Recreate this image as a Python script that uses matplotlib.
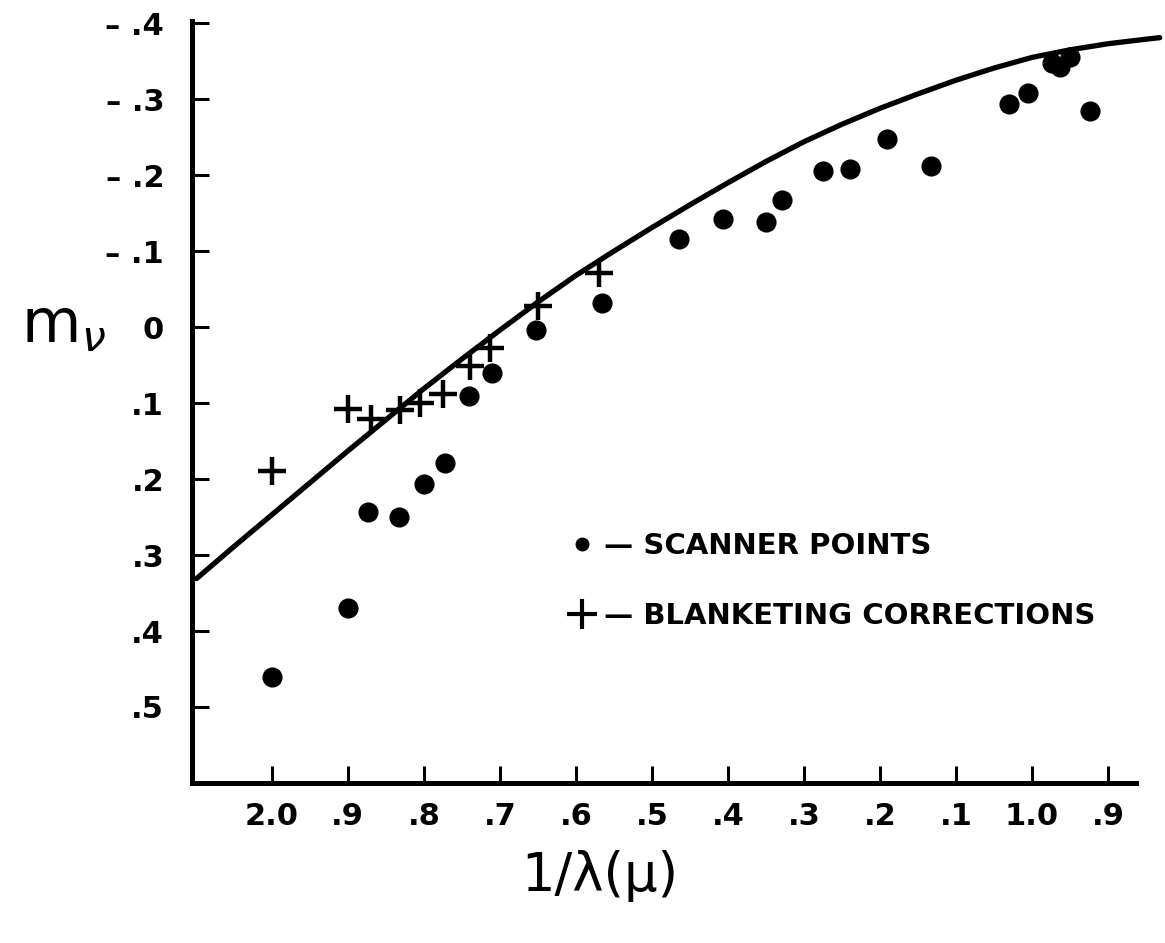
import matplotlib
matplotlib.use("Agg")
import matplotlib.pyplot as plt
from matplotlib.lines import Line2D

# inverse wavelength (1/micron) and magnitudes m_nu
scan_x = [2.00, 1.90, 1.873, 1.833, 1.800, 1.772, 1.741, 1.711, 1.653, 1.566,
          1.465, 1.406, 1.350, 1.329, 1.275, 1.239, 1.191, 1.133, 1.030, 1.005,
          0.974, 0.963, 0.950, 0.924]
scan_y = [0.460, 0.370, 0.244, 0.250, 0.207, 0.179, 0.091, 0.060, 0.004, -0.032,
          -0.116, -0.142, -0.138, -0.167, -0.206, -0.208, -0.247, -0.212, -0.294, -0.308,
          -0.347, -0.343, -0.355, -0.285]

blank_x = [2.00, 1.900, 1.869, 1.832, 1.805, 1.775, 1.739, 1.713, 1.650, 1.570]
blank_y = [0.189, 0.108, 0.121, 0.109, 0.100, 0.088, 0.051, 0.028, -0.028, -0.071]

# smooth theoretical curve
curve_x = [2.099, 2.05, 2.00, 1.95, 1.90, 1.85, 1.80, 1.75, 1.70, 1.65, 1.60, 1.55,
           1.50, 1.45, 1.40, 1.35, 1.30, 1.25, 1.20, 1.15, 1.10, 1.05, 1.00, 0.95,
           0.90, 0.85, 0.832]
curve_y = [0.331, 0.289, 0.247, 0.205, 0.163, 0.122, 0.081, 0.042, 0.004, -0.033,
           -0.068, -0.100, -0.131, -0.161, -0.190, -0.218, -0.244, -0.267, -0.288,
           -0.307, -0.325, -0.341, -0.355, -0.365, -0.373, -0.379, -0.381]

xticks = [2.0, 1.9, 1.8, 1.7, 1.6, 1.5, 1.4, 1.3, 1.2, 1.1, 1.0, 0.9]
xticklabels = ['2.0', '.9', '.8', '.7', '.6', '.5', '.4', '.3', '.2', '.1', '1.0', '.9']
yticks = [-0.4, -0.3, -0.2, -0.1, 0.0, 0.1, 0.2, 0.3, 0.4, 0.5]
yticklabels = ['– .4', '– .3', '– .2', '– .1', '0', '.1', '.2', '.3', '.4', '.5']

plt.rcParams['font.family'] = ['DejaVu Sans']
plt.rcParams['mathtext.fontset'] = 'dejavusans'

fig = plt.figure(figsize=(11.65, 9.43), dpi=100)
ax = fig.add_axes([0.1648, 0.1697, 0.8320, 0.8081])

ax.plot(curve_x, curve_y, color='k', lw=3.8, solid_capstyle='round',
        solid_joinstyle='round', clip_on=False)
ax.plot(scan_x, scan_y, 'o', color='k', ms=13.5, ls='none')
ax.plot(blank_x, blank_y, '+', color='k', ms=20, mew=3.2, ls='none')

ax.set_xlim(2.105, 0.83)
ax.set_ylim(0.6, -0.403)

for s in ['top', 'right']:
    ax.spines[s].set_visible(False)
for s in ['left', 'bottom']:
    ax.spines[s].set_linewidth(3.6)
ax.spines['bottom'].set_bounds(2.105, 0.863)

ax.set_xticks(xticks)
ax.set_xticklabels(xticklabels, fontsize=22, fontweight='bold')
ax.set_yticks(yticks)
ax.set_yticklabels(yticklabels, fontsize=22, fontweight='bold')
ax.tick_params(direction='in', length=12, width=2.2)
ax.tick_params(axis='x', pad=14)
ax.tick_params(axis='y', pad=20)

ax.set_ylabel(r'$\mathrm{m}_{\nu}$', fontsize=44, rotation=0, va='center', ha='center')
ax.yaxis.set_label_coords(-0.133, 0.60)
ax.set_xlabel('1/λ(μ)', fontsize=38, va='center', ha='center')
ax.xaxis.set_label_coords(0.421, -0.122)

handles = [Line2D([], [], marker='o', color='k', ms=9, ls='none'),
           Line2D([], [], marker='+', color='k', ms=22, mew=3, ls='none')]
ax.legend(handles, ['— SCANNER POINTS', '— BLANKETING CORRECTIONS'],
          loc='center left', bbox_to_anchor=(0.36, 0.265), frameon=False,
          prop={'size': 21, 'weight': 'bold'}, handlelength=1.0,
          handletextpad=0.25, labelspacing=1.45)

fig.savefig('out.png', dpi=100)
